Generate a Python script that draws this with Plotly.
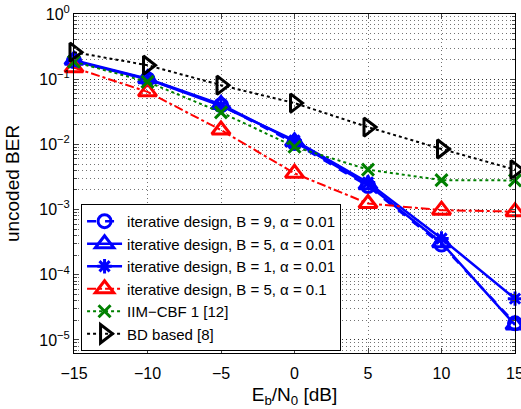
import plotly.graph_objects as go

snr = [-15, -10, -5, 0, 5, 10, 15]
ber_b9 = [0.19, 0.100, 0.040, 0.0105, 0.0023, 2.9e-4, 1.8e-5]
ber_b5 = [0.195, 0.102, 0.041, 0.0110, 0.0024, 3.1e-4, 1.7e-5]
ber_b1 = [0.19, 0.100, 0.039, 0.0115, 0.0026, 3.6e-4, 4.3e-5]
ber_b5_a01 = [0.15, 0.064, 0.0166, 0.0036, 0.00124, 0.00098, 0.00093]
ber_iim = [0.185, 0.091, 0.031, 0.0092, 0.0041, 0.00283, 0.0028]
ber_bd = [0.26, 0.164, 0.081, 0.043, 0.0184, 0.0085, 0.0041]

names = [
    "iterative design, B = 9, α = 0.01",
    "iterative design, B = 5, α = 0.01",
    "iterative design, B = 1, α = 0.01",
    "iterative design, B = 5, α = 0.1",
    "IIM−CBF 1 [12]",
    "BD based [8]",
]

ytick_vals = [1, 1e-1, 1e-2, 1e-3, 1e-4, 1e-5]
ytick_text = ["10<sup>0</sup>", "10<sup>−1</sup>", "10<sup>−2</sup>", "10<sup>−3</sup>",
              "10<sup>−4</sup>", "10<sup>−5</sup>"]
xtick_vals = [-15, -10, -5, 0, 5, 10, 15]

fig = go.Figure()
specs = [
    (ber_b9, "blue", "dash", "circle-open", 13),
    (ber_b5, "blue", "solid", "triangle-up-open", 16),
    (ber_b1, "blue", "solid", "asterisk-open", 12),
    (ber_b5_a01, "red", "dashdot", "triangle-up-open", 16),
    (ber_iim, "green", "dot", "x-thin-open", 12),
    (ber_bd, "black", "dot", "triangle-right-open", 16),
]
for (vals, col, dash, sym, sz), nm in zip(specs, names):
    fig.add_trace(go.Scatter(
        x=snr, y=vals, name=nm, mode="lines+markers", cliponaxis=False,
        line=dict(color=col, dash=dash, width=2.5 if col == "blue" else 2),
        marker=dict(symbol=sym, size=sz, color=col, line=dict(color=col, width=3)),
    ))

gridcol = "rgba(0,0,0,0.55)"
griddash = "1px,3px"
fig.update_layout(
    width=521, height=409,
    margin=dict(l=74, r=6, t=14, b=56),
    plot_bgcolor="white", paper_bgcolor="white",
    font=dict(family="Liberation Sans, Arial, sans-serif", size=16, color="black"),
    showlegend=True,
    legend=dict(x=0.016, y=0.006, xanchor="left", yanchor="bottom",
                bgcolor="white", bordercolor="black", borderwidth=1,
                font=dict(size=15), itemwidth=35, tracegroupgap=0),
    xaxis=dict(range=[-15, 15], tickvals=xtick_vals, ticks="inside", ticklen=5,
               showline=True, linecolor="black", linewidth=1, mirror="ticks",
               zeroline=False, automargin=False, ticklabeloverflow="allow",
               ticklabelstandoff=6,
               title=dict(text="E<sub>b</sub>/N<sub>0</sub> [dB]", standoff=6),
               showgrid=True, gridcolor=gridcol, griddash=griddash, gridwidth=1),
    yaxis=dict(type="log", range=[-5.2, 0], tickvals=ytick_vals, ticktext=ytick_text,
               ticks="inside", ticklen=5, showline=True, linecolor="black", linewidth=1,
               mirror="ticks", zeroline=False, automargin=False, ticklabeloverflow="allow",
               title=dict(text="uncoded BER", standoff=14),
               showgrid=True, gridcolor=gridcol, griddash=griddash, gridwidth=1,
               minor=dict(dtick="D1", showgrid=True, gridcolor=gridcol,
                          griddash=griddash, ticks="inside", ticklen=3)),
)
fig.write_html("out.html",
               config={"displayModeBar": False},
               post_script="document.body.style.margin='0';document.body.style.overflow='hidden';")
